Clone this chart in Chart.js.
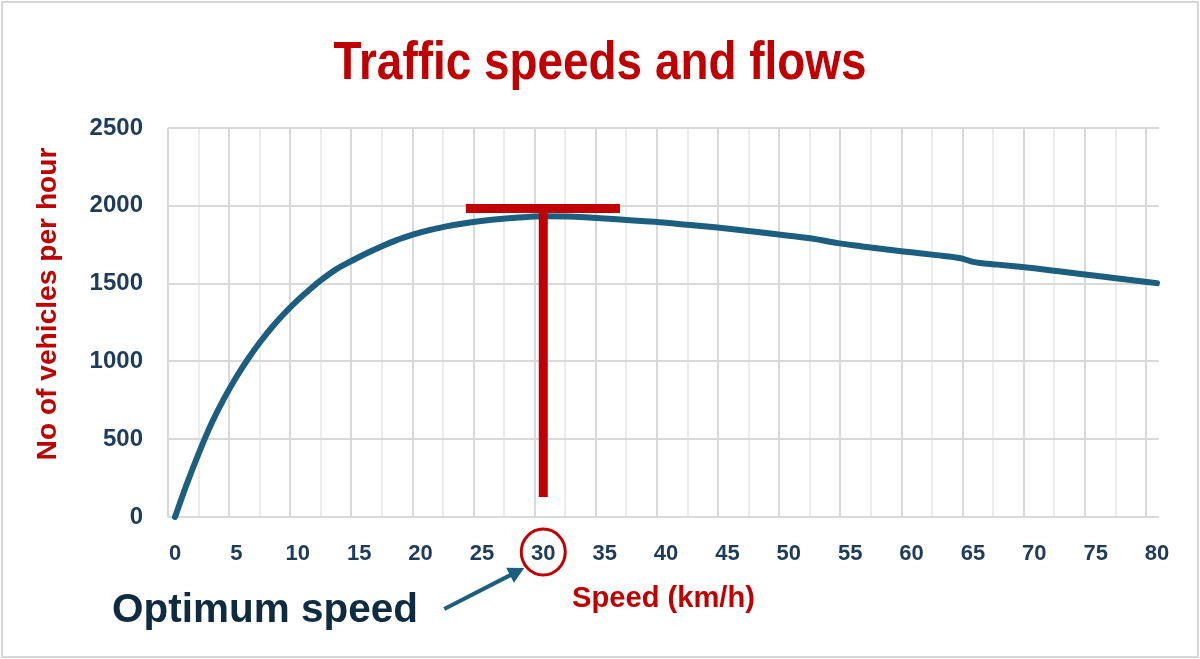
<!DOCTYPE html>
<html>
<head>
<meta charset="utf-8">
<script src="https://cdn.jsdelivr.net/npm/chart.js@4"></script>
<style>
  html, body { margin: 0; padding: 0; background: #ffffff; }
  #wrap { width: 1200px; height: 659px; position: relative; }
</style>
</head>
<body>
<div id="wrap"><canvas id="c" width="1200" height="659"></canvas></div>
<script>
// ---- data ----
const speeds = [0,1,2,3,4,5,6,7,8,9,10,11,12,13,14,15,16,17,18,19,20,22,24,26,28,30,32,34,36,38,40,42,44,46,48,50,52,54,56,58,60,62,64,65,67,70,72,75,78,80];
const flows  = [0,220,422,605,762,900,1022,1131,1229,1316,1394,1464,1528,1585,1630,1671,1709,1745,1778,1805,1829,1866,1893,1912,1925,1933,1932,1923,1913,1902,1891,1876,1862,1845,1827,1808,1788,1760,1739,1719,1701,1683,1663,1640,1622,1598,1579,1550,1521,1503];
const xTickLabels = [0,5,10,15,20,25,30,35,40,45,50,55,60,65,70,75,80];
const yTickValues = [0,500,1000,1500,2000,2500];
const optimumSpeed = 30;
const capacityFlow = 1983;
const capacityBarSpeeds = [23.7, 36.25];
const stemBottomFlow = 128;
const titleText = 'Traffic speeds and flows';
const xTitle = 'Speed (km/h)';
const yTitle = 'No of vehicles per hour';
const calloutText = 'Optimum speed';

// ---- styles ----
const RED = '#c00000';
const CURVE = '#1b5e80';
const TICK = '#1f3b5a';
const GRID = '#d9d9d9';
const GRID_MINOR = '#ececec';
const X_MIN = -0.57, X_MAX = 80.16, GRID_STEP = 2.49;
const gridVals = [];
for (let k = 0; k <= 32; k++) gridVals.push(X_MIN + k * GRID_STEP);

const SANS = "'Liberation Sans', Arial, sans-serif";

function fitSize(ctx, text, weight, family, targetW) {
  ctx.font = weight + ' 100px ' + family;
  return 100 * targetW / ctx.measureText(text).width;
}

const decor = {
  id: 'decor',
  afterDraw(chart) {
    const ctx = chart.ctx;
    const xs = chart.scales.x;
    ctx.save();
    // outer border
    ctx.strokeStyle = '#d6d6d6';
    ctx.lineWidth = 2;
    ctx.strokeRect(2, 2, 1196, 655);

    // title: condensed look via horizontal scaling
    ctx.save();
    const tSize = 54;
    ctx.font = 'bold ' + tSize + 'px ' + SANS;
    const natural = ctx.measureText(titleText).width;
    const sx = 533 / natural;
    ctx.translate(600, 79);
    ctx.scale(sx, 1);
    ctx.fillStyle = RED;
    ctx.textAlign = 'center';
    ctx.textBaseline = 'alphabetic';
    ctx.fillText(titleText, 0, 0);
    ctx.restore();

    ctx.fillStyle = RED;
    ctx.textAlign = 'center';
    ctx.textBaseline = 'alphabetic';
    // x title
    let s = fitSize(ctx, xTitle, 'bold', SANS, 183);
    ctx.font = 'bold ' + s + 'px ' + SANS;
    ctx.fillText(xTitle, (chart.chartArea.left + chart.chartArea.right) / 2, 607);

    // y title
    s = fitSize(ctx, yTitle, 'bold', SANS, 313);
    ctx.font = 'bold ' + s + 'px ' + SANS;
    ctx.save();
    ctx.translate(48, 304);
    ctx.rotate(-Math.PI / 2);
    ctx.textBaseline = 'middle';
    ctx.fillText(yTitle, 0, 0);
    ctx.restore();

    // circle around optimum tick label
    const cx = xs.getPixelForValue(optimumSpeed);
    const cy = 552;
    ctx.beginPath();
    ctx.ellipse(cx, cy, 22, 23, 0, 0, Math.PI * 2);
    ctx.strokeStyle = RED;
    ctx.lineWidth = 3;
    ctx.stroke();

    // arrow
    const tip = {x: cx - 19, y: cy + 16};
    const tail = {x: cx - 99, y: cy + 57};
    const dx = tip.x - tail.x, dy = tip.y - tail.y;
    const L = Math.hypot(dx, dy), ux = dx / L, uy = dy / L;
    const hl = 16, hw = 8.5;
    const bx = tip.x - ux * hl, by = tip.y - uy * hl;
    ctx.strokeStyle = CURVE;
    ctx.fillStyle = CURVE;
    ctx.lineWidth = 4;
    ctx.beginPath();
    ctx.moveTo(tail.x, tail.y);
    ctx.lineTo(bx + ux * 2, by + uy * 2);
    ctx.stroke();
    ctx.beginPath();
    ctx.moveTo(tip.x, tip.y);
    ctx.lineTo(bx - uy * hw, by + ux * hw);
    ctx.lineTo(bx + uy * hw, by - ux * hw);
    ctx.closePath();
    ctx.fill();

    // callout text
    s = fitSize(ctx, calloutText, 'bold', SANS, 306);
    ctx.font = 'bold ' + s + 'px ' + SANS;
    ctx.fillStyle = '#0e2b3f';
    ctx.textAlign = 'left';
    ctx.textBaseline = 'alphabetic';
    ctx.fillText(calloutText, 112, 622);
    ctx.restore();
  }
};

new Chart(document.getElementById('c'), {
  type: 'line',
  data: {
    datasets: [
      {
        label: 'capacity',
        data: capacityBarSpeeds.map(v => ({x: v, y: capacityFlow})),
        borderColor: RED, borderWidth: 9, borderCapStyle: 'butt',
        pointRadius: 0, tension: 0, clip: false
      },
      {
        label: 'stem',
        data: [{x: optimumSpeed, y: capacityFlow}, {x: optimumSpeed, y: stemBottomFlow}],
        borderColor: RED, borderWidth: 9, borderCapStyle: 'butt',
        pointRadius: 0, tension: 0, clip: false
      },
      {
        label: 'flow',
        data: speeds.map((v, i) => ({x: v, y: flows[i]})),
        borderColor: CURVE, borderWidth: 6, borderCapStyle: 'round', borderJoinStyle: 'round',
        pointRadius: 0, cubicInterpolationMode: 'monotone', clip: false
      }
    ]
  },
  options: {
    responsive: false,
    animation: false,
    devicePixelRatio: 1,
    layout: { padding: { top: 128, right: 41, left: 0, bottom: 0 } },
    plugins: { legend: { display: false }, tooltip: { enabled: false }, title: { display: false } },
    scales: {
      x: {
        type: 'linear', position: 'bottom', min: X_MIN, max: X_MAX,
        grid: { display: false, drawTicks: false },
        border: { display: false },
        afterBuildTicks: sc => { sc.ticks = xTickLabels.map(v => ({value: v})); },
        afterFit: sc => { sc.height = 142; },
        ticks: {
          autoSkip: false, maxRotation: 0, padding: 24, color: TICK,
          font: { family: SANS, size: 22, weight: 'bold' },
          callback: v => String(v)
        }
      },
      xgrid: {
        type: 'linear', position: 'bottom', min: X_MIN, max: X_MAX,
        grid: {
          color: c => (c.index % 2 === 0 ? GRID : GRID_MINOR),
          lineWidth: 2, drawTicks: false
        },
        border: { display: false },
        afterBuildTicks: sc => { sc.ticks = gridVals.map(v => ({value: v})); },
        afterFit: sc => { sc.height = 0; },
        ticks: { display: false }
      },
      y: {
        type: 'linear', min: 0, max: 2500,
        afterBuildTicks: sc => { sc.ticks = yTickValues.map(v => ({value: v})); },
        afterFit: sc => { sc.width = 168; },
        grid: { color: GRID, lineWidth: 2, drawTicks: false },
        border: { display: false },
        ticks: {
          padding: 25, color: TICK,
          font: { family: SANS, size: 24, weight: 'bold' },
          callback: v => String(v)
        }
      }
    }
  },
  plugins: [decor]
});
</script>
</body>
</html>
